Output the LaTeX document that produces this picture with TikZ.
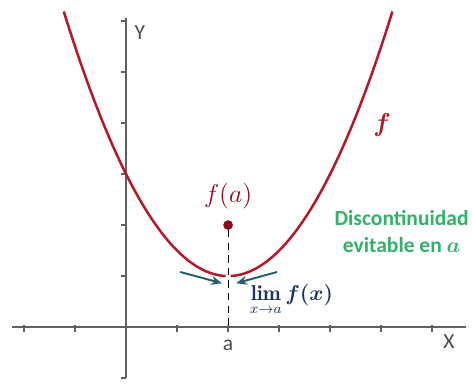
\documentclass[tikz,border=0pt]{standalone}
\usepackage{amsmath,bm}
\usepackage{fontspec}
\setsansfont{Carlito}
\usetikzlibrary{arrows.meta,positioning}
\definecolor{curvecolor}{RGB}{180,25,42}
\definecolor{dotcolor}{RGB}{140,10,25}
\definecolor{axiscolor}{RGB}{95,95,95}
\definecolor{notecolor}{RGB}{50,178,105}
\definecolor{arrowcolor}{RGB}{35,95,110}
\definecolor{limcolor}{RGB}{30,50,100}

\begin{document}
\begin{tikzpicture}[
    axis/.style={draw=axiscolor, line width=0.8pt},
    graph/.style={draw=curvecolor, line width=1.4pt, smooth, samples=60},
    axislabel/.style={font=\sffamily\fontsize{12}{14}\selectfont, text=axiscolor!80!black},
    approach/.style={-{Stealth[length=6pt,width=5pt]}, draw=arrowcolor, line width=1.1pt}
]
\useasboundingbox (-2.47,-1.1) rectangle (6.78,6.41);

% Axes
\coordinate (xl) at (-2.23,0);
\coordinate (xr) at (6.66,0);
\coordinate (yb) at (0,-1);
\coordinate (yt) at (0,6.05);
\draw[axis] (xl) -- (xr);
\draw[axis] (yb) -- (yt);
\foreach \x in {-2,-1,1,2,3,4,5,6}
    \draw[axis] (\x,0.04) -- (\x,-0.1);
\foreach \y in {-1,1,2,3,4,5,6}
    \draw[axis] (0,\y) -- (-0.1,\y);

\node[axislabel] (ylab) at (0.27,5.78) {Y};
\node[axislabel] (xlab) at (6.33,-0.29) {X};
\node[axislabel] (alab) at (2,-0.35) {a};

% Function with a hole at x = a
\draw[graph, domain=-1.22:1.95] plot (\x,{1+0.5*(\x-2)^2});
\draw[graph, domain=2.05:5.22] plot (\x,{1+0.5*(\x-2)^2});
\node[text=curvecolor, font=\fontsize{15}{17}\selectfont] (flab) at (5.02,3.96) {$\bm{f}$};

% Value f(a)
\node[circle, fill=dotcolor, inner sep=0pt, minimum size=0.19cm] (fa) at (2,2) {};
\node[text=dotcolor, font=\fontsize{14}{16}\selectfont, above=0.08cm of fa] (falab) {$f(a)$};
\coordinate (foot) at (2,0);
\draw[black, line width=0.6pt, dash pattern=on 4pt off 3pt] (fa) -- (foot);

% Approaching arrows
\coordinate (lstart) at (1.06,1.08);
\coordinate (lend) at (1.88,0.86);
\coordinate (rstart) at (2.96,1.08);
\coordinate (rend) at (2.16,0.86);
\draw[approach] (lstart) -- (lend);
\draw[approach] (rstart) -- (rend);
\node[text=limcolor, font=\fontsize{12}{14}\selectfont] (limlab) at (3.24,0.53)
    {$\displaystyle\operatorname*{\mathbf{lim}}_{x\to a} \bm{f(x)}$};

% Note
\node[text=notecolor, font=\sffamily\bfseries\fontsize{12}{15}\selectfont, align=center] (note) at (5.4,1.88)
    {Discontinuidad\\evitable en $\bm{a}$};

\end{tikzpicture}
\end{document}
